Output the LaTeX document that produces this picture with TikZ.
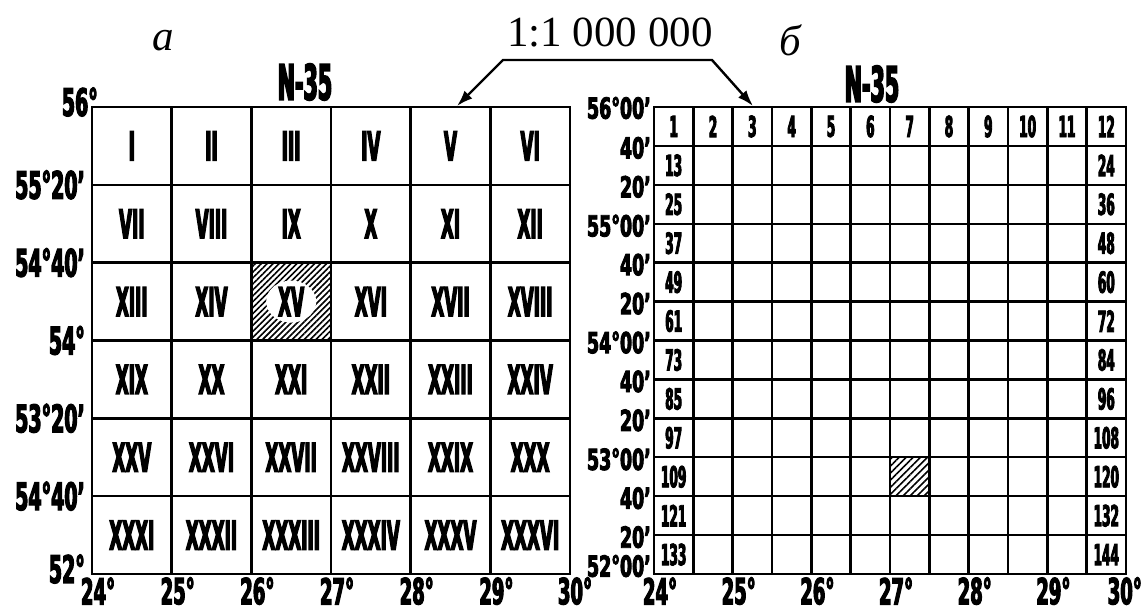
\documentclass[tikz,border=0pt]{standalone}
\usepackage{fontspec}
\setmainfont{Liberation Serif}
\newfontfamily\mapfont{DejaVu Sans}[FakeStretch=0.42,FakeBold=3]
\newfontfamily\degfont{DejaVu Sans}[FakeStretch=0.5,FakeBold=3]
\newfontfamily\degwide{DejaVu Sans}[FakeStretch=0.6,FakeBold=3]
\usetikzlibrary{arrows.meta,patterns.meta}

\begin{document}
\begin{tikzpicture}[x=1pt,y=-1pt,
  romfont/.style={font=\mapfont\bfseries\fontsize{40}{40}\selectfont},
  gridA/.style={draw,line width=2.6pt,minimum width=79.67pt,minimum height=77.83pt,inner sep=0pt,romfont},
  gridB/.style={draw,line width=2.4pt,minimum width=39.33pt,minimum height=38.92pt,inner sep=0pt,
    font=\mapfont\bfseries\fontsize{29}{29}\selectfont},
  sheet/.style={inner sep=0pt,font=\mapfont\bfseries\fontsize{49}{49}\selectfont},
  latA/.style={anchor=east,inner sep=0pt,font=\degfont\bfseries\fontsize{38}{38}\selectfont},
  latB/.style={anchor=east,inner sep=0pt,font=\degwide\bfseries\fontsize{29}{29}\selectfont},
  lon/.style={inner sep=0pt,font=\degfont\bfseries\fontsize{36}{36}\selectfont},
  panel/.style={anchor=base,inner sep=0pt,font=\itshape\fontsize{43}{43}\selectfont},
  hatchA/.style={pattern={Lines[angle=45,distance=4.2pt,line width=1.6pt]}},
  hatchB/.style={pattern={Lines[angle=45,distance=5pt,line width=1.6pt]}},
  pointer/.style={line width=2.4pt,{Latex[length=16pt,width=11pt]}-{Latex[length=16pt,width=11pt]}},
]
\useasboundingbox (0,0) rectangle (1147,614);

\node[panel] (pa) at (163,50) {а};
\node[panel] (pb) at (790,55) {б};
\node[inner sep=0pt,font=\fontsize{43}{43}\selectfont] (scale) at (610,33) {1:1 000 000};
\node[sheet] (sheetA) at (305,82) {N-35};
\node[sheet] (sheetB) at (872,84) {N-35};

% sheet a
\foreach \txt [count=\i from 0] in {I,II,III,IV,V,VI,VII,VIII,IX,X,XI,XII,XIII,XIV,{},XVI,XVII,XVIII,
    XIX,XX,XXI,XXII,XXIII,XXIV,XXV,XXVI,XXVII,XXVIII,XXIX,XXX,XXXI,XXXII,XXXIII,XXXIV,XXXV,XXXVI}{
  \pgfmathtruncatemacro\cc{mod(\i,6)}
  \pgfmathtruncatemacro\rr{floor(\i/6)}
  \node[gridA] (a\i) at ({92+79.67*(\cc+0.5)},{107+77.83*(\rr+0.5)}) {\txt};
}
\node[gridA,hatchA] (xv) at (a14) {};
\fill[white] (xv.center) ellipse [x radius=25, y radius=21];
\node[inner sep=0pt,romfont] (xvlab) at (xv) {XV};

\node[latA] (la0) at (98,102) {56°};
\foreach \txt [count=\k from 1] in {55°20’,54°40’,54°,53°20’,54°40’}
  \node[latA] (la\k) at (85,{107+77.83*\k}) {\txt};
\node[latA] (la6) at (85,569) {52°};

% sheet b
\foreach \rr in {0,...,11}{
  \foreach \cc in {0,...,11}{
    \pgfmathtruncatemacro\nn{12*\rr+\cc+1}
    \pgfmathtruncatemacro\isnum{(\rr==0)||(\cc==0)||(\cc==11)}
    \node[gridB] (b\nn) at ({654+39.33*(\cc+0.5)},{107+38.92*(\rr+0.5)}) {\ifnum\isnum=1 \nn\fi};
  }
}
\node[gridB,hatchB] (h115) at (b115) {};

\node[latB] (lb0) at (651,108) {56°00’};
\foreach \txt [count=\k from 1] in {40’,20’,55°00’,40’,20’,54°00’,40’,20’,53°00’,40’,20’}
  \node[latB] (lb\k) at (651,{107+38.92*\k+2}) {\txt};
\node[latB] (lb12) at (651,566) {52°00’};

\foreach \txt [count=\k from 0] in {24,...,29}{
  \node[lon] (loa\k) at ({92+79.67*\k+6},591) {\txt°};
  \node[lon] (lob\k) at ({654+78.67*\k+6},591) {\txt°};
}
\node[lon] (loa6) at (575,591) {30°};
\node[lon,anchor=east] (lob6) at (1142,591) {30°};

\coordinate (tipL) at (457,106);
\coordinate (bendL) at (503,60);
\coordinate (bendR) at (712,60);
\coordinate (tipR) at (753,106);
\draw[pointer] (tipL) -- (bendL) -- (bendR) -- (tipR);
\end{tikzpicture}
\end{document}
